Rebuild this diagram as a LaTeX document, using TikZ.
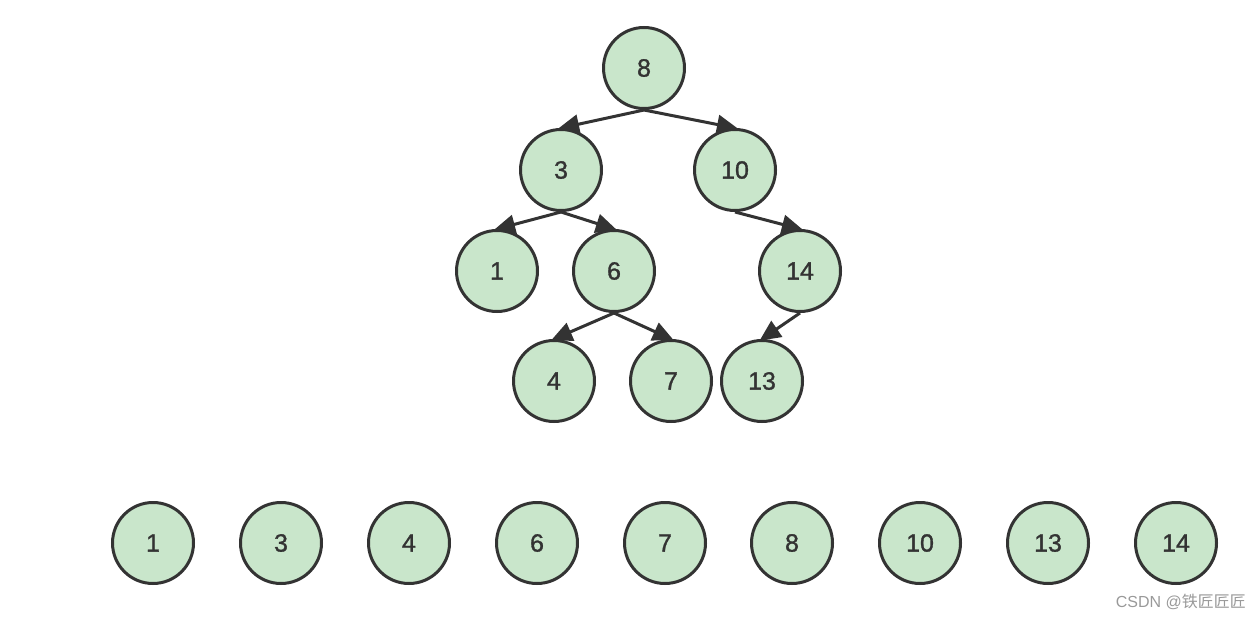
\documentclass[tikz,border=0pt]{standalone}
\usepackage{fontspec}
\setmainfont{Liberation Sans}
\newfontfamily\numfont[FakeBold=1.2]{Liberation Sans}
\newfontfamily\cjk{Noto Sans CJK SC}
\usetikzlibrary{arrows.meta}
\definecolor{nodefill}{HTML}{C9E6CB}
\definecolor{edge}{HTML}{333333}
\begin{document}
\begin{tikzpicture}[x=1pt,y=-1pt,
  tnode/.style={circle,draw=edge,line width=3pt,fill=nodefill,minimum size=81pt,inner sep=0pt,font=\numfont\fontsize{25}{25}\selectfont,text=edge},
  tedge/.style={draw=edge,line width=3pt,-{Triangle[length=21pt,width=19pt]},shorten >=-3pt}]
\useasboundingbox (0,0) rectangle (1260,620);
% tree
\node[tnode] (n8) at (644,68) {8};
\node[tnode] (n3) at (561,170) {3};
\node[tnode] (n10) at (735,170) {10};
\node[tnode] (n1) at (497,271) {1};
\node[tnode] (n6) at (614,271) {6};
\node[tnode] (n14) at (800,271) {14};
\node[tnode] (n4) at (554,381) {4};
\node[tnode] (n7) at (671,381) {7};
\node[tnode] (n13) at (762,381) {13};
\draw[tedge] (n8.south) -- (n3.north);
\draw[tedge] (n8.south) -- (n10.north);
\draw[tedge] (n3.south) -- (n1.north);
\draw[tedge] (n3.south) -- (n6.north);
\draw[tedge] (n10.south) -- (n14.north);
\draw[tedge] (n6.south) -- (n4.north);
\draw[tedge] (n6.south) -- (n7.north);
\draw[tedge] (n14.south) -- (n13.north);
% sorted row
\node[tnode] (b1) at (153,543) {1};
\node[tnode] (b3) at (281,543) {3};
\node[tnode] (b4) at (409,543) {4};
\node[tnode] (b6) at (537,543) {6};
\node[tnode] (b7) at (665,543) {7};
\node[tnode] (b8) at (792,543) {8};
\node[tnode] (b10) at (920,543) {10};
\node[tnode] (b13) at (1048,543) {13};
\node[tnode] (b14) at (1176,543) {14};
% watermark
\node[anchor=east,text=gray!80,font=\fontsize{16}{16}\selectfont,inner sep=0pt] (wm) at (1246,602) {CSDN @{\cjk 铁匠匠匠}};
\end{tikzpicture}
\end{document}
